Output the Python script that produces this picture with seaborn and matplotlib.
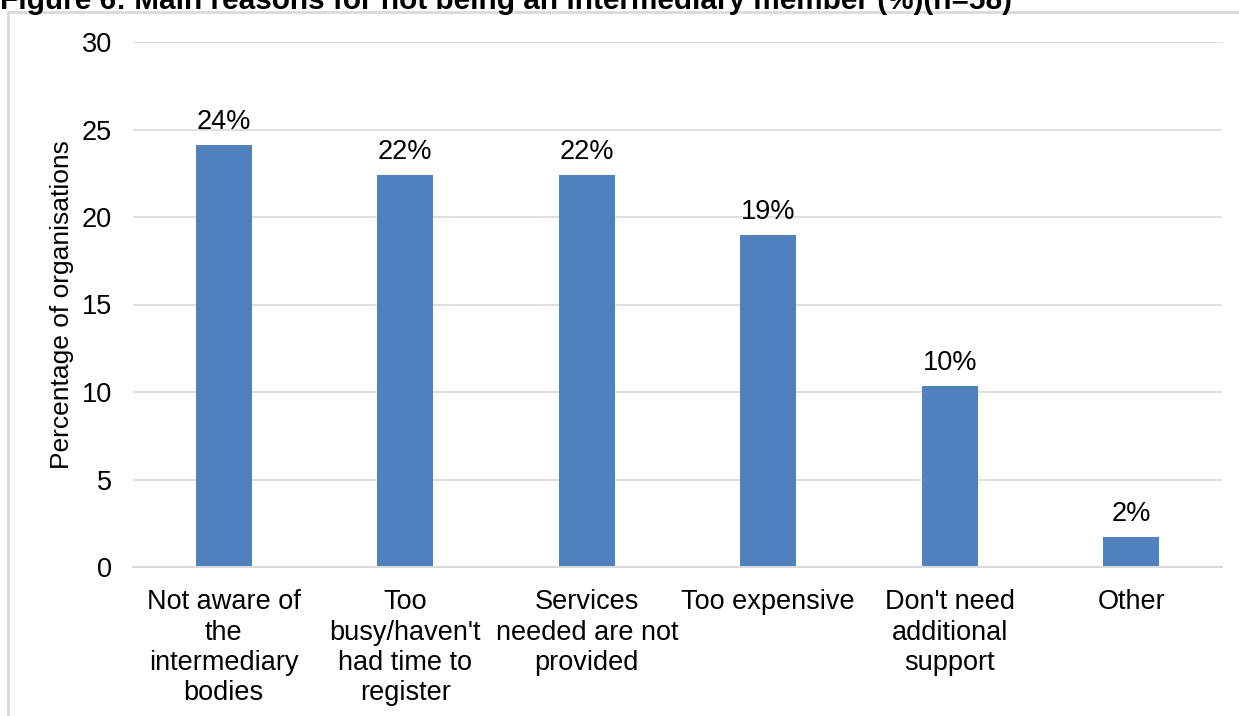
import matplotlib
matplotlib.use("Agg")
import matplotlib.pyplot as plt
import matplotlib.patches as mpatches
import seaborn as sns
import pandas as pd

# Survey responses (n=58)
reasons = [
    "Not aware of\nthe\nintermediary\nbodies",
    "Too\nbusy/haven't\nhad time to\nregister",
    "Services\nneeded are not\nprovided",
    "Too expensive",
    "Don't need\nadditional\nsupport",
    "Other",
]
percentages = [24.14, 22.41, 22.41, 18.97, 10.34, 1.72]
value_labels = ["24%", "22%", "22%", "19%", "10%", "2%"]
y_ticks = [0, 5, 10, 15, 20, 25, 30]

sns.set_theme(style="white")
plt.rcParams["font.family"] = ["Liberation Sans", "DejaVu Sans"]

FS = 19.5
W, H = 1239, 716
fig = plt.figure(figsize=(W / 100, H / 100), dpi=100)
ax = fig.add_axes([133 / W, 1 - 567 / H, (1222 - 133) / W, (567 - 42) / H])

df = pd.DataFrame({"reason": reasons, "pct": percentages})
sns.barplot(data=df, x="reason", y="pct", color="#4f81bd", saturation=1,
            width=0.31, ax=ax, edgecolor="none")

ax.set_ylim(0, 30)
ax.set_yticks(y_ticks)
ax.set_xlim(-0.5, len(reasons) - 0.5)
ax.yaxis.grid(True, color="#d9d9d9", linewidth=1.2)
ax.set_axisbelow(True)
for side in ["top", "right", "left"]:
    ax.spines[side].set_visible(False)
ax.spines["bottom"].set_color("#d9d9d9")
ax.spines["bottom"].set_linewidth(1.5)

ax.tick_params(axis="y", length=0, pad=15, labelsize=FS, labelcolor="#000000")
ax.tick_params(axis="x", length=0, pad=16, labelsize=FS, labelcolor="#000000")
for lbl in ax.get_xticklabels():
    lbl.set_linespacing(1.22)
    lbl.set_verticalalignment("top")

ax.set_xlabel("")
ax.set_ylabel("Percentage of organisations", fontsize=19, color="#000000", labelpad=6)

for i, (v, t) in enumerate(zip(percentages, value_labels)):
    ax.annotate(t, (i, v), xytext=(0, 7), textcoords="offset points",
                ha="center", va="bottom", fontsize=FS, color="#000000")

# Chart frame
frame = mpatches.Rectangle((8 / W, -0.1), 1.2, 1 - 12 / H + 0.1,
                           transform=fig.transFigure, fill=False,
                           edgecolor="#d9d9d9", linewidth=2, zorder=0)
fig.patches.append(frame)

fig.text(0, 1 - 9 / H, "Figure 6: Main reasons for not being an intermediary member (%)(n=58)",
         ha="left", va="baseline", fontsize=21.4, fontweight="bold", color="#000000")

fig.savefig("out.png", dpi=100)
